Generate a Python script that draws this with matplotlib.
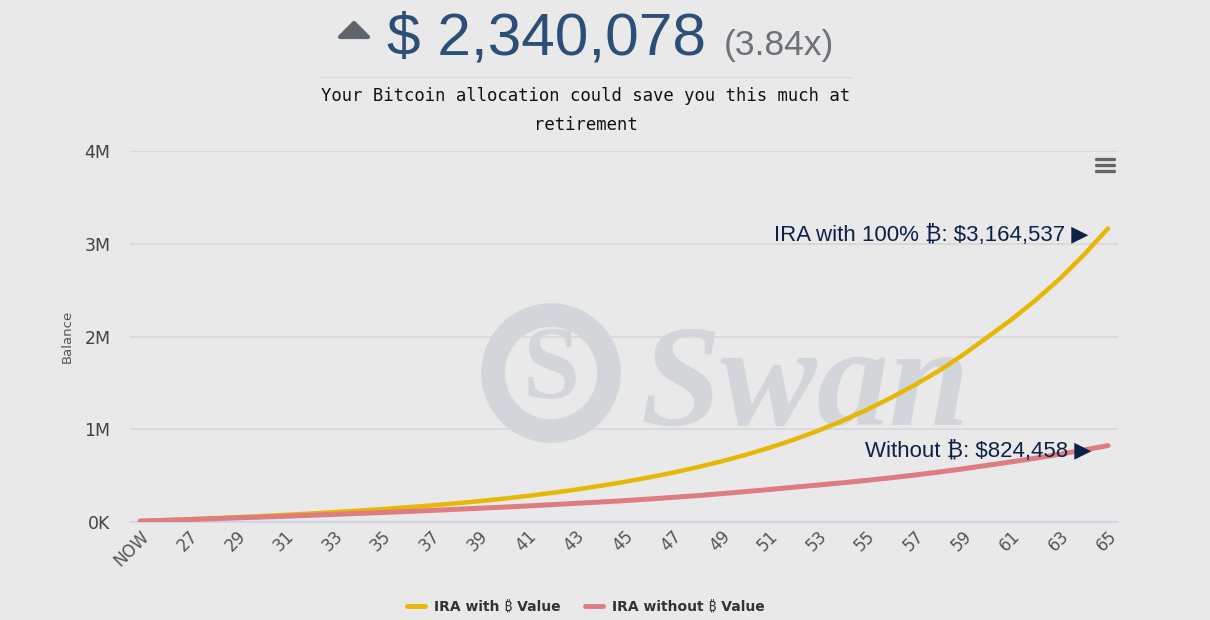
import matplotlib
matplotlib.use("Agg")
import matplotlib.pyplot as plt
import matplotlib.patches as mpatches
from matplotlib.lines import Line2D
import numpy as np

## Data
ages = list(range(25, 66))
with_btc = [0.010, 0.019, 0.029, 0.040, 0.052, 0.064, 0.077, 0.091, 0.106, 0.122,
            0.139, 0.158, 0.178, 0.200, 0.224, 0.251, 0.281, 0.313, 0.349, 0.389,
            0.432, 0.479, 0.531, 0.589, 0.652, 0.722, 0.800, 0.886, 0.982, 1.088,
            1.205, 1.335, 1.475, 1.628, 1.800, 1.990, 2.180, 2.390, 2.620, 2.880,
            3.1645]
without_btc = [0.010, 0.018, 0.026, 0.035, 0.044, 0.053, 0.062, 0.072, 0.082, 0.092,
               0.102, 0.113, 0.124, 0.136, 0.148, 0.160, 0.173, 0.187, 0.201, 0.215,
               0.230, 0.247, 0.265, 0.284, 0.305, 0.327, 0.350, 0.375, 0.398, 0.422,
               0.448, 0.476, 0.506, 0.538, 0.573, 0.611, 0.648, 0.688, 0.730, 0.776,
               0.824]
tick_ages = list(range(25, 66, 2))
tick_labels = ["NOW"] + [str(a) for a in tick_ages[1:]]
y_ticks = [0, 1, 2, 3, 4]
y_labels = ["0K", "1M", "2M", "3M", "4M"]
series_names = ["IRA with \u20bf Value", "IRA without \u20bf Value"]
final_with = "$3,164,537"
final_without = "$824,458"
headline = "$ 2,340,078"
multiple = "(3.84x)"

## Style
W, H = 1210, 620
bg = "#e9e9e9"
yellow = "#e6b705"
red = "#dd7d81"
navy = "#0c2148"
mark = "#d2d5da"
sans = ["Liberation Sans", "Noto Sans", "DejaVu Sans"]

fig = plt.figure(figsize=(W / 100, H / 100), dpi=100, facecolor=bg)
def fx(px): return px / W
def fy(py): return 1 - py / H

ax = fig.add_axes([fx(130), fy(522), fx(1118) - fx(130), fy(151) - fy(522)])
ax.set_facecolor(bg)
ax.set_xlim(25 - 10 / 24.2, 65 + 10 / 24.2)
ax.set_ylim(0, 4)

# watermark logo
ax.add_artist(mpatches.Ellipse((fx(551), fy(373)), fx(116), 116 / H,
                               transform=fig.transFigure, facecolor="none",
                               edgecolor=mark, lw=17, zorder=0.2))
ax.text(fx(551), fy(373), "S", transform=fig.transFigure, ha="center", va="center",
        fontsize=74, family="Liberation Serif", fontweight="bold", color=mark, zorder=0.2)
ax.text(fx(640), fy(425), "Swan", transform=fig.transFigure, ha="left", va="baseline",
        fontsize=104, family="Liberation Serif", fontweight="bold", fontstyle="italic",
        color=mark, zorder=0.2)

ax.set_axisbelow(True)
ax.grid(axis="y", color="#d6d6d6", lw=1.2)
ax.grid(axis="x", visible=False)
for s in ["top", "right", "left"]:
    ax.spines[s].set_visible(False)
ax.spines["bottom"].set_color("#ccd3e6")
ax.spines["bottom"].set_linewidth(1.2)

ax.plot(ages, with_btc, color=yellow, lw=3.2, solid_capstyle="round", zorder=3, label=series_names[0])
ax.plot(ages, without_btc, color=red, lw=3.6, solid_capstyle="round", zorder=4, label=series_names[1])

ax.set_yticks(y_ticks)
ax.set_yticklabels(y_labels, fontsize=12.5, color="#444444", family="DejaVu Sans")
ax.set_xticks(tick_ages)
ax.set_xticklabels(tick_labels, fontsize=12, color="#555555", family="DejaVu Sans",
                   rotation=45, ha="right", va="top", rotation_mode="anchor")
ax.tick_params(axis="both", length=0)
ax.tick_params(axis="y", pad=14)
ax.tick_params(axis="x", pad=4)
ax.set_ylabel("Balance", fontsize=9.5, color="#555555", labelpad=8)

ax.annotate("IRA with 100% \u20bf: " + final_with + " \u25b6", xy=(ages[-1], with_btc[-1]),
            xytext=(-14, -5), textcoords="offset points", ha="right", va="center",
            fontsize=16, color=navy, family=sans, zorder=5)
ax.annotate("Without \u20bf: " + final_without + " \u25b6", xy=(ages[-1], without_btc[-1]),
            xytext=(-12, -4.5), textcoords="offset points", ha="right", va="center",
            fontsize=16, color=navy, family=sans, zorder=5)

# header
fig.patches.append(mpatches.Polygon([(fx(340), fy(37)), (fx(368), fy(37)), (fx(354), fy(23))],
                                    closed=True, transform=fig.transFigure, facecolor="#5f646b",
                                    edgecolor="#5f646b", lw=3, joinstyle="round"))
fig.text(fx(387), fy(55), headline, ha="left", va="baseline", fontsize=43.5,
         color="#2b4f77", family=sans)
fig.text(fx(724), fy(55), multiple, ha="left", va="baseline", fontsize=25.5,
         color="#6b727a", family=sans)
fig.add_artist(Line2D([fx(320), fx(852)], [fy(77), fy(77)], color="#dcdcdc", lw=1))
fig.text(fx(586), fy(101), "Your Bitcoin allocation could save you this much at",
         ha="center", va="baseline", fontsize=12.4, family="DejaVu Sans Mono", color="#111111")
fig.text(fx(586), fy(130), "retirement",
         ha="center", va="baseline", fontsize=12.4, family="DejaVu Sans Mono", color="#111111")

# menu icon
for yy in [159, 165, 171]:
    fig.add_artist(Line2D([fx(1096), fx(1114)], [fy(yy), fy(yy)], color="#666666", lw=2.4,
                          solid_capstyle="round"))

leg = fig.legend(handles=[Line2D([], [], color=yellow, lw=3.5, solid_capstyle="round"),
                          Line2D([], [], color=red, lw=3.5, solid_capstyle="round")],
                 labels=series_names, loc="center", bbox_to_anchor=(fx(586), fy(607)),
                 ncol=2, frameon=False, handlelength=1.3, handletextpad=0.6, columnspacing=1.8,
                 prop={"weight": "bold", "size": 10, "family": ["DejaVu Sans", "Noto Sans"]})
for t in leg.get_texts():
    t.set_color("#333333")

fig.savefig("out.png", dpi=100, facecolor=bg)
